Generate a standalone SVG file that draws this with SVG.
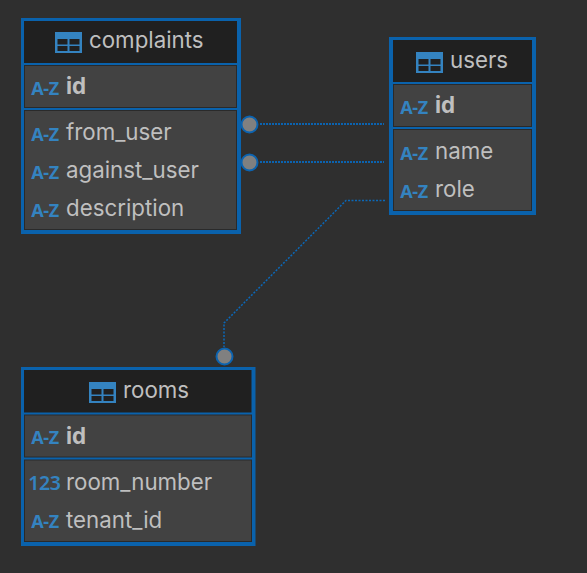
<svg xmlns="http://www.w3.org/2000/svg" width="587" height="573" viewBox="0 0 587 573">
<style>
.bg{fill:#2f2f2f}
.frame{fill:#0a62ac}
.head{fill:#202020}
.row{fill:#424242;stroke:#2a2a2a;stroke-width:1}
.t{font-family:Inter,"Noto Sans",sans-serif;font-size:22.3px;fill:#bfbfbf}
.b{font-weight:700}
.ty{font-family:"Noto Sans","Liberation Sans",sans-serif;font-size:18px;font-weight:700;fill:#3483c0;text-anchor:middle;letter-spacing:-.4px}
.num{font-size:19.500px;font-weight:600}
.ico{fill:#3483c0}
.icl{fill:#202020}
.c{fill:none;stroke:#0b63b0;stroke-width:2;stroke-dasharray:2 1}
.d{fill:none;stroke:#0b68b8;stroke-width:1.500;stroke-dasharray:2 1.500}
.dot{fill:#808080;stroke:#0b63b0;stroke-width:2}
</style>
<defs>
<g id="tbl">
<rect class="ico" width="27" height="21"/>
<rect class="icl" x="2.500" y="7" width="10" height="5.500"/><rect class="icl" x="14.500" y="7" width="10" height="5.500"/>
<rect class="icl" x="2.500" y="14" width="10" height="5"/><rect class="icl" x="14.500" y="14" width="10" height="5"/>
</g>
</defs>
<rect class="bg" width="587" height="573"/>
<g id="connectors">
<path class="c" d="M260 124H384"/>
<path class="c" d="M260 162H384"/>
<path class="d" d="M385 200.500H346L224 323V347"/>
</g>
<g id="complaints">
<rect class="frame" x="21" y="18" width="220" height="216"/>
<rect class="head" x="24" y="21" width="213" height="42"/>
<rect class="row" x="24.500" y="65.500" width="212" height="42"/>
<rect class="row" x="24.500" y="110.500" width="212" height="119"/>
<use href="#tbl" x="55" y="32"/>
<text class="t" x="89" y="48">complaints</text>
<text class="ty" x="45" y="95">A-Z</text><text class="t b" x="66" y="94">id</text>
<text class="ty" x="45" y="141">A-Z</text><text class="t" x="66" y="140">from_user</text>
<text class="ty" x="45" y="179">A-Z</text><text class="t" x="66" y="178">against_user</text>
<text class="ty" x="45" y="217">A-Z</text><text class="t" x="66" y="216">description</text>
<circle class="dot" cx="249.500" cy="124.500" r="8"/>
<circle class="dot" cx="249.500" cy="162.500" r="8"/>
</g>
<g id="users">
<rect class="frame" x="389" y="37" width="147" height="178"/>
<rect class="head" x="393" y="40" width="139" height="42"/>
<rect class="row" x="393.500" y="84.500" width="138" height="42"/>
<rect class="row" x="393.500" y="129.500" width="138" height="81"/>
<use href="#tbl" x="416" y="52"/>
<text class="t" x="450" y="68">users</text>
<text class="ty" x="414" y="114">A-Z</text><text class="t b" x="435" y="113">id</text>
<text class="ty" x="414" y="160">A-Z</text><text class="t" x="435" y="158.500">name</text>
<text class="ty" x="414" y="198">A-Z</text><text class="t" x="435" y="196.500">role</text>
</g>
<g id="rooms">
<rect class="frame" x="21" y="367" width="234.500" height="179"/>
<rect class="head" x="24" y="370" width="227.500" height="42.500"/>
<rect class="row" x="24.500" y="415" width="227" height="42"/>
<rect class="row" x="24.500" y="460" width="227" height="81.500"/>
<use href="#tbl" x="89" y="382"/>
<text class="t" x="123" y="398">rooms</text>
<text class="ty" x="45" y="444">A-Z</text><text class="t b" x="66" y="444">id</text>
<text class="ty num" x="44.500" y="490">123</text><text class="t" x="66" y="490">room_number</text>
<text class="ty" x="45" y="528">A-Z</text><text class="t" x="66" y="528">tenant_id</text>
<circle class="dot" cx="224.500" cy="356.500" r="8"/>
</g>
</svg>
